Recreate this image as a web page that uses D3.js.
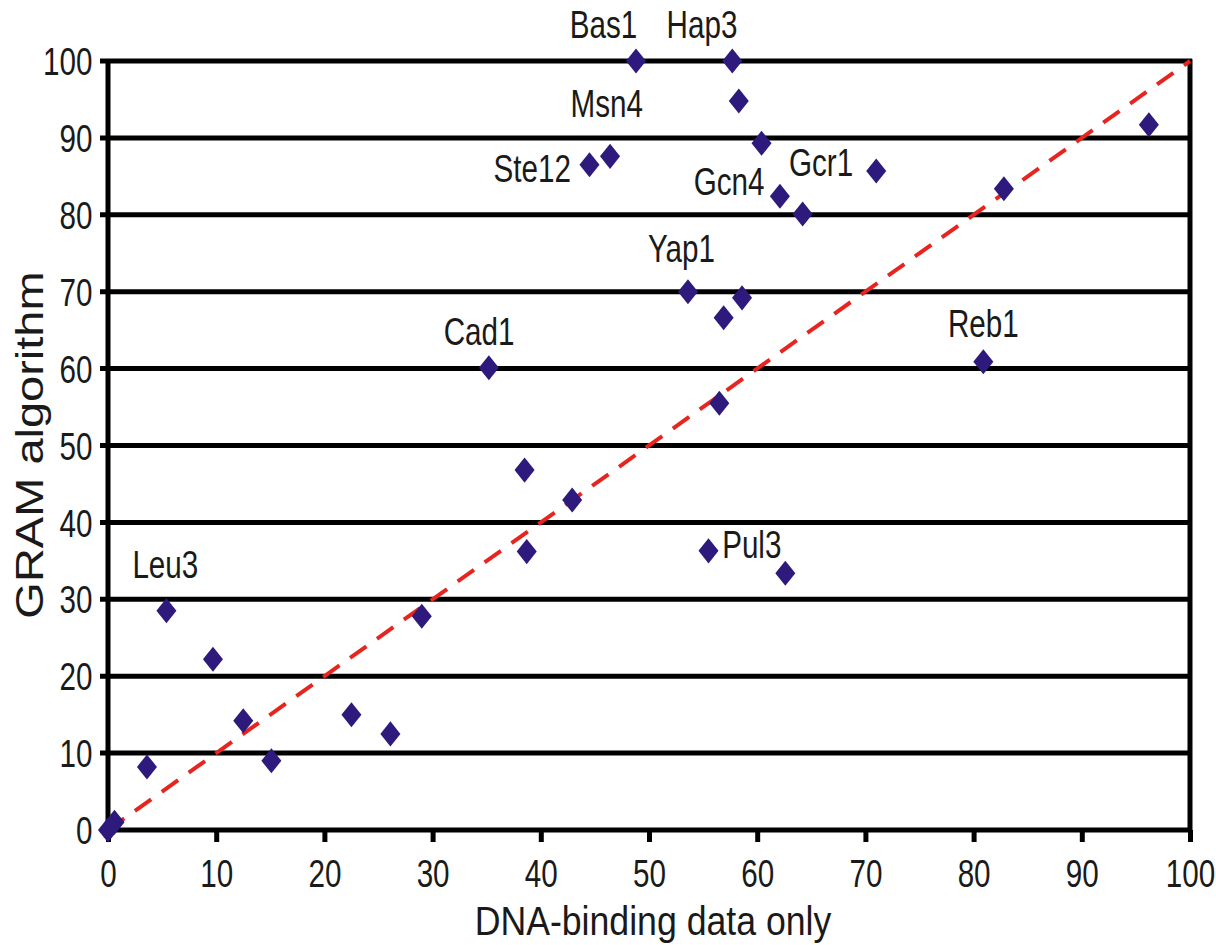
<!DOCTYPE html>
<html>
<head>
<meta charset="utf-8">
<script src="https://cdn.jsdelivr.net/npm/d3@7"></script>
<style>
  body { margin: 0; background: #fff; }
  text { font-family: "Liberation Sans", Arial, sans-serif; fill: #1a1a1a; }
</style>
</head>
<body>
<div id="chart"></div>
<script>
// data
let xVals = [0, 0.6, 3.6, 5.4, 9.7, 12.5, 15.1, 22.5, 26.1, 29.0, 35.2, 38.5, 42.9, 38.7, 55.5, 62.6, 56.5, 53.6, 56.9, 58.6, 48.8, 57.7, 58.3, 60.4, 44.5, 46.4, 62.1, 64.2, 71.0, 82.8, 80.9, 96.2];
let yVals = [0, 1.0, 8.2, 28.5, 22.2, 14.2, 9.0, 15.0, 12.5, 27.8, 60.1, 46.8, 42.9, 36.2, 36.3, 33.4, 55.5, 70.0, 66.6, 69.2, 100, 100, 94.8, 89.3, 86.5, 87.6, 82.4, 80.1, 85.7, 83.4, 60.9, 91.7];

let labelNames = ["Bas1", "Hap3", "Msn4", "Ste12", "Gcn4", "Gcr1", "Yap1", "Cad1", "Reb1", "Pul3", "Leu3"];
// label anchor (baseline centre) in data units
let labelX = [45.8, 54.9, 46.1, 39.2, 57.4, 65.9, 53.0, 34.3, 80.9, 59.5, 5.3];
let labelY = [103.0, 103.0, 92.7, 84.3, 82.6, 85.0, 73.9, 63.1, 64.1, 35.4, 32.8];

let xTicks = d3.range(0, 101, 10);
let yTicks = d3.range(0, 101, 10);

let width = 1216, height = 945;
let margin = {left: 108, right: 26, top: 61, bottom: 115};

let x = d3.scaleLinear().domain([0, 100]).range([margin.left, width - margin.right]);
let y = d3.scaleLinear().domain([0, 100]).range([height - margin.bottom, margin.top]);

let svg = d3.select("#chart").append("svg")
    .attr("width", width)
    .attr("height", height);

// horizontal grid lines (incl. top)
svg.append("g")
    .selectAll("line")
    .data(yTicks)
    .enter().append("line")
    .attr("x1", x(0) - 8)
    .attr("x2", x(100) + 2)
    .attr("y1", d => y(d))
    .attr("y2", d => y(d))
    .attr("stroke", "#000")
    .attr("stroke-width", 5);

// left and right frame
svg.append("line")
    .attr("x1", x(0)).attr("x2", x(0))
    .attr("y1", y(100) - 2).attr("y2", y(0) + 2)
    .attr("stroke", "#000").attr("stroke-width", 5);
svg.append("line")
    .attr("x1", x(100)).attr("x2", x(100))
    .attr("y1", y(100) - 2).attr("y2", y(0) + 2)
    .attr("stroke", "#000").attr("stroke-width", 5);

let xAxis = d3.axisBottom(x).tickValues(xTicks).tickSize(12).tickPadding(18).tickFormat(d3.format("d"));
let yAxis = d3.axisLeft(y).tickValues(yTicks).tickSize(0).tickPadding(20).tickFormat(d3.format("d"));

let gx = svg.append("g")
    .attr("transform", "translate(0," + y(0) + ")")
    .call(xAxis);
gx.select(".domain").remove();
gx.selectAll(".tick line").attr("stroke", "#000").attr("stroke-width", 5);
gx.selectAll("text")
    .style("font-size", "38px")
    .attr("fill", "#1a1a1a")
    .attr("transform", "scale(0.78,1)");

let gy = svg.append("g")
    .attr("transform", "translate(" + x(0) + ",0)")
    .call(yAxis);
gy.select(".domain").remove();
gy.selectAll("text")
    .style("font-size", "38px")
    .attr("fill", "#1a1a1a")
    .attr("dy", "0.36em")
    .attr("transform", "scale(0.78,1)");

// diagonal reference line
svg.append("line")
    .attr("x1", x(0)).attr("y1", y(0))
    .attr("x2", x(100)).attr("y2", y(100))
    .attr("stroke", "#e8241f")
    .attr("stroke-width", 4)
    .attr("stroke-dasharray", "20,13");

// points
let pts = xVals.map((v, i) => ({x: v, y: yVals[i]}));
svg.append("g")
    .selectAll("path")
    .data(pts)
    .enter().append("path")
    .attr("d", d3.symbol().type(d3.symbolDiamond2).size(400))
    .attr("transform", d => "translate(" + x(d.x) + "," + y(d.y) + ") scale(0.8,1)")
    .attr("fill", "#2e1a7c");

// point labels
svg.append("g")
    .selectAll("text")
    .data(labelNames)
    .enter().append("text")
    .attr("transform", (d, i) => "translate(" + x(labelX[i]) + "," + y(labelY[i]) + ") scale(0.78,1)")
    .attr("text-anchor", "middle")
    .style("font-size", "38px")
    .text(d => d);

// axis titles
svg.append("text")
    .attr("transform", "translate(653,935) scale(0.87,1)")
    .attr("text-anchor", "middle")
    .style("font-size", "41px")
    .text("DNA-binding data only");

svg.append("text")
    .attr("transform", "translate(43,445) rotate(-90) scale(1,0.84)")
    .attr("text-anchor", "middle")
    .style("font-size", "47px")
    .text("GRAM algorithm");
</script>
</body>
</html>
